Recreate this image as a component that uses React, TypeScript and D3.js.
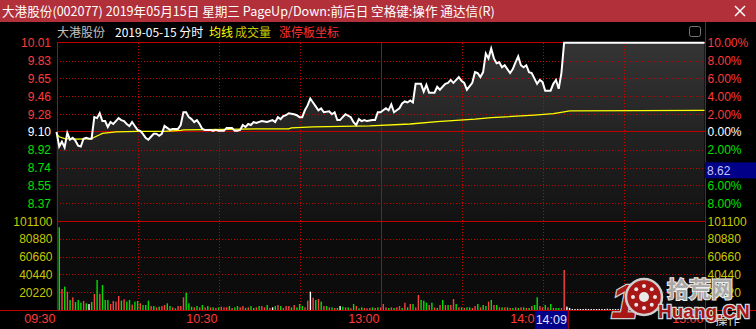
import React from 'react';
import * as d3 from 'd3';

const W = 756;
const H = 329;

// price samples: minute index (0 = 09:30, 120 = 13:00, 240 = 15:00) and price
const priceMinutes = [0,1,2,3,4,5,6,7,8,9,10,11,12,13,14,15,16,17,18,19,20,21,22,23,24,25,26,27,28,29,30,31,32,33,34,35,36,37,38,39,40,41,42,43,44,45,46,47,48,49,50,51,52,53,54,55,56,57,58,59,60,61,62,63,64,65,66,67,68,69,70,71,72,73,74,76,78,80,81,82,83,84,85,86,88,89,90,91,92,93,94,95,96,97,98,99,101,102,103,104,105,106,107,109,110,111,112,113,114,115,117,118,119,120,121,122,123,124,125,127,128,129,130,131,132,133,135,136,137,138,140,141,142,144,145,146,147,149,150,151,152,154,155,156,157,158,159,160,161,162,163,164,165,166,168,169,170,171,172,173,174,175,176,178,179,180,181,183,184,185,186,187,188,240];
const priceValues = [9.10,8.95,9.00,8.94,9.09,9.02,9.04,9.01,8.96,8.95,9.03,9.04,9.03,9.03,9.25,9.24,9.29,9.21,9.21,9.15,9.20,9.18,9.21,9.24,9.22,9.21,9.18,9.16,9.20,9.16,9.12,9.11,9.08,9.04,9.02,9.05,9.08,9.08,9.06,9.08,9.16,9.14,9.12,9.13,9.13,9.13,9.17,9.30,9.30,9.25,9.23,9.20,9.22,9.18,9.13,9.12,9.12,9.12,9.11,9.12,9.11,9.11,9.11,9.14,9.14,9.14,9.11,9.11,9.12,9.17,9.15,9.18,9.17,9.20,9.19,9.21,9.20,9.22,9.20,9.25,9.23,9.26,9.27,9.29,9.28,9.27,9.25,9.25,9.32,9.37,9.44,9.40,9.36,9.32,9.34,9.30,9.31,9.28,9.30,9.22,9.22,9.25,9.28,9.25,9.20,9.17,9.23,9.21,9.22,9.21,9.22,9.22,9.30,9.30,9.32,9.34,9.32,9.38,9.30,9.34,9.39,9.41,9.40,9.42,9.40,9.59,9.59,9.51,9.58,9.50,9.50,9.56,9.53,9.59,9.60,9.63,9.60,9.66,9.62,9.60,9.53,9.60,9.71,9.70,9.66,9.71,9.90,9.85,9.95,9.85,9.80,9.81,9.76,9.78,9.70,9.74,9.81,9.87,9.78,9.76,9.78,9.71,9.70,9.59,9.63,9.61,9.52,9.52,9.59,9.63,9.54,9.70,10.01,10.01];

const avgMinutes = [0,1,3,8,13,14,16,17,22,30,40,46,47,62,74,86,87,95,116,131,141,155,161,177,184,188,190,240];
const avgValues = [9.08,9.05,9.03,9.025,9.03,9.045,9.07,9.085,9.10,9.105,9.105,9.115,9.12,9.125,9.13,9.13,9.14,9.15,9.16,9.18,9.205,9.23,9.245,9.27,9.285,9.305,9.315,9.32];

// volume per minute, minutes 1..240
const volumeValues = [
  93900,23900,26500,20800,11400,14400,9100,11400,8300,10200,
  7600,6800,9100,18200,34100,18200,28400,11400,11400,6800,
  10200,9500,15900,10600,12100,9500,11400,6100,9500,10200,
  7600,5700,5700,10600,4500,4500,3000,3800,4500,5700,
  7600,4500,3000,1900,4500,4500,14400,19700,7600,3800,
  3000,4500,3000,5700,3000,4500,3000,3000,2300,3000,
  3800,3000,3000,4500,2300,3000,4500,3000,4500,2300,
  3000,4500,2300,3000,4500,4500,3000,5700,2300,3000,
  4500,5700,4500,2300,4500,4500,3000,5700,3000,6800,
  4500,3000,10600,20800,14000,11400,12500,9500,4500,4500,
  3000,3000,2300,2300,4500,3800,3000,3000,1900,6800,
  4500,1900,3000,2300,1900,2300,3000,2300,3000,3000,
  6800,3000,2300,3000,2300,3000,4500,2300,8300,3000,
  6800,6800,3000,17000,11400,10600,8300,5700,8300,3000,
  2300,5700,11400,5700,5700,5700,12500,6800,3000,3000,
  2300,3000,3000,2300,4500,6800,3000,5700,4500,9500,
  11400,5700,5700,3000,3000,3000,3000,2300,2300,3000,
  2300,3000,3000,2300,2300,4500,5700,14400,4500,3000,
  5700,3000,6800,2300,2300,2300,2300,45400,3800,2300,
  1100,900,1200,800,1000,1300,900,1000,1100,800,
  1200,900,1000,1400,900,1000,800,1100,1000,900,
  1200,1000,900,1100,800,1000,1300,900,1000,1100,
  900,1000,1200,800,1000,1100,900,1000,1300,900,
  1000,1100,800,1000,1200,900,1000,1100,900,1000,
];
// r = up, g = down, w = unchanged
const volumeDirs = (
  'grgrgrgggr' + 'gwgrgrgggr' + 'rrrgrggrgg' + 'rgggrgrgrr' + 'ggrgrrrggg' +
  'rgrgrgrgrg' + 'rrrgrggrrg' + 'rggrgrrgrw' + 'grgrrrgrgg' + 'grrwrgrgrg' +
  'rgrgwgrgrg' + 'rggrrrgrgr' + 'rrgrgrrgrg' + 'rgrrgggrgr' + 'grgrgrrgrg' +
  'rggrrgrggr' + 'grgrgrgrgr' + 'grgrgrggrr' + 'grgrggrrww' +
  'wwwwwwwwww' + 'wwwwwwwwww' + 'wwwwwwwwww' + 'wwwwwwwwww' + 'wwwwwwwwww'
).split('');

const priceTickLabels = ['10.01','9.83','9.65','9.46','9.28','9.10','8.92','8.74','8.55','8.37'];
const pctTickValues = [10,8,6,4,2,0,-2,-4,-6,-8];
const pctTickLabels = ['10.00%','8.00%','6.00%','4.00%','2.00%','0.00%','2.00%','4.00%','6.00%','8.00%'];
const volTickValues = [101100,80880,60660,40440,20220];
const timeLabels = ['09:30','10:30','13:00','14:00','15:00'];
const timeMinutes = [0,60,120,180,240];
const dottedMinutes = [30,60,90,150,180,210];
const solidMinutes = [0,120,240];
const crossMinute = 189;
const crossTime = '14:09';
const crossPrice = '8.62';
const crossPriceValue = 8.62;

const titleText = '大港股份(002077) 2019年05月15日 星期三 PageUp/Down:前后日 空格键:操作 通达信(R)';

const L = 56.5, R = 704.5, PT = 42.7, PB = 221, VT = 221, VB = 310;

const RED = '#ff3a3a';
const GREEN = '#00e000';
const GRID = '#c00000';
const DOT = '#c80000';
const VOLY = '#c8c800';

export default function App() {
  const x = d3.scaleLinear().domain([0, 240]).range([L, R]);
  const py = d3.scaleLinear().domain([8.19, 10.01]).range([PB, PT]);
  const pct = d3.scaleLinear().domain([-10, 10]).range([PB, PT]);
  const vy = d3.scaleLinear().domain([0, 101100]).range([VB, VT]);

  const pts = priceMinutes.map((m, i) => [m, priceValues[i]] as [number, number]);
  const line = d3.line<[number, number]>().x(d => x(d[0])).y(d => py(d[1]));
  const area = d3.area<[number, number]>().x(d => x(d[0])).y0(PB).y1(d => py(d[1]));
  const avgPts = avgMinutes.map((m, i) => [m, avgValues[i]] as [number, number]);

  const dirColor = (c: string) => (c === 'r' ? '#ff4040' : c === 'g' ? '#00e000' : '#ffffff');

  const crossX = x(crossMinute);
  const crossY = py(crossPriceValue);
  const boxTop = crossY - 16.5;
  const boxBottom = crossY - 0.5;
  const hiddenByBox = (yy: number) => yy > boxTop - 2 && yy < boxBottom + 2;

  const num = "'Liberation Sans', Arial, sans-serif";
  const cjk = "'Noto Sans CJK SC', 'Liberation Sans', sans-serif";

  return (
    <svg width={W} height={H} style={{ position: 'absolute', left: 0, top: 0, background: '#000' }}>
      <defs>
        <linearGradient id="fillg" gradientUnits="userSpaceOnUse" x1="0" y1={PT} x2="0" y2={PB}>
          <stop offset="0" stopColor="#353535" />
          <stop offset="1" stopColor="#121212" />
        </linearGradient>
      </defs>
      <rect x={0} y={0} width={W} height={H} fill="#000" />
      {/* title bar */}
      <rect x={0} y={0} width={W} height={22} fill="#b2303a" />
      <text x={2} y={16} fill="#fff" fontSize={12.6} fontFamily={cjk}>{titleText}</text>
      <g stroke="#fff" strokeWidth={1.5}>
        <line x1={735} y1={6} x2={745} y2={16} />
        <line x1={745} y1={6} x2={735} y2={16} />
      </g>

      {/* header row */}
      <g fontFamily={cjk} fontSize={12}>
        <text x={57} y={37} fill="#c0c0c0">大港股份</text>
        <text x={115} y={37} fill="#ffffff">2019-05-15 分时</text>
        <text x={209} y={37} fill="#ffff00">均线</text>
        <text x={235} y={37} fill={VOLY}>成交量</text>
        <text x={279} y={37} fill="#ff3030">涨停板坐标</text>
      </g>
      <rect x={689.5} y={26.5} width={11} height={10} rx={2} fill="none" stroke="#777" />

      {/* volume background */}
      <rect x={L} y={VT} width={R - L} height={VB - VT} fill="#0c0c0c" />

      {/* price area fill */}
      <path d={area(pts) || ''} fill="url(#fillg)" />

      {/* dotted grid */}
      <g stroke={DOT} strokeWidth={1} strokeDasharray="1,2" shapeRendering="crispEdges">
        {pctTickValues.filter(v => v !== 10 && v !== 0).map(v => (
          <line key={'pg' + v} x1={L} x2={R} y1={Math.round(pct(v)) + 0.5} y2={Math.round(pct(v)) + 0.5} />
        ))}
        {volTickValues.filter(v => v !== 101100).map(v => (
          <line key={'vg' + v} x1={L} x2={R} y1={Math.round(vy(v)) + 0.5} y2={Math.round(vy(v)) + 0.5} />
        ))}
        {dottedMinutes.map(m => (
          <line key={'dm' + m} x1={Math.round(x(m)) + 0.5} x2={Math.round(x(m)) + 0.5} y1={PT} y2={VB} />
        ))}
      </g>

      {/* volume bars */}
      {volumeValues.map((v, i) => {
        const m = i + 1;
        const y0 = vy(v);
        const h = Math.max(1, VB - y0);
        return <rect key={'vb' + m} x={x(m) - 0.6} y={VB - h} width={1.4} height={h} fill={dirColor(volumeDirs[i])} />;
      })}

      {/* solid grid */}
      <g stroke={GRID} strokeWidth={1.2} shapeRendering="crispEdges">
        <line x1={L} x2={R} y1={42.5} y2={42.5} />
        <line x1={L} x2={R} y1={131.5} y2={131.5} />
        <line x1={L} x2={R} y1={221.5} y2={221.5} />
        <line x1={0} x2={W} y1={310.5} y2={310.5} />
        {solidMinutes.map(m => (
          <line key={'sm' + m} x1={Math.round(x(m)) + 0.5} x2={Math.round(x(m)) + 0.5} y1={m === 240 ? 22 : PT} y2={m === 240 ? H : VB} />
        ))}
      </g>

      {/* average line */}
      <path d={line(avgPts) || ''} fill="none" stroke="#ffff00" strokeWidth={1.3} />
      {/* price line */}
      <path d={line(pts) || ''} fill="none" stroke="#ffffff" strokeWidth={2} strokeLinejoin="miter" />

      {/* left axis labels */}
      <g fontFamily={num} fontSize={12} textAnchor="end">
        {pctTickValues.map((v, i) => (
          <text key={'pl' + i} x={51} y={pct(v) + 4.5} fill={v > 0 ? RED : v < 0 ? GREEN : '#ffffff'}>{priceTickLabels[i]}</text>
        ))}
        {volTickValues.map(v => (
          <text key={'vl' + v} x={52.5} y={vy(v) + 4.5} fill={VOLY}>{v}</text>
        ))}
      </g>
      {/* right axis labels */}
      <g fontFamily={num} fontSize={12} textAnchor="start">
        {pctTickValues.map((v, i) => hiddenByBox(pct(v)) ? null : (
          <text key={'pr' + i} x={707.5} y={pct(v) + 4.5} fill={v > 0 ? RED : v < 0 ? GREEN : '#ffffff'}>{pctTickLabels[i]}</text>
        ))}
        {volTickValues.map(v => (
          <text key={'vr' + v} x={707.5} y={vy(v) + 4.5} fill={VOLY}>{v}</text>
        ))}
      </g>
      {/* right price crosshair box */}
      <rect x={R + 0.5} y={boxTop} width={W - R} height={16} fill="#000088" />
      <text x={707} y={crossY - 4} fill="#c8c8ff" fontFamily={num} fontSize={12}>{crossPrice}</text>

      {/* time labels */}
      <g fontFamily={num} fontSize={12.5} textAnchor="end" fill={RED}>
        {timeMinutes.map((m, i) => (
          <text key={'tl' + m} x={x(m) - 1} y={323}>{timeLabels[i]}</text>
        ))}
      </g>
      <rect x={crossX - 32} y={311} width={33.5} height={18} fill="#000088" />
      <line x1={crossX + 1.5} x2={crossX + 1.5} y1={311} y2={H} stroke={GRID} />
      <text x={crossX - 15.5} y={323.5} textAnchor="middle" fill="#e0e0ff" fontFamily={num} fontSize={12.5}>{crossTime}</text>
      <text x={715} y={325} fill="#d8d8d8" fontFamily={cjk} fontSize={12.5}>操作</text>

      {/* watermark */}
      <g>
        <text x={611} y={318} fontFamily={num} fontWeight="bold" fontStyle="italic" fontSize={48} fill="#a81616" stroke="#cfcfcf" strokeWidth={2.5} paintOrder="stroke">1</text>
        <circle cx={644} cy={297} r={18} fill="#a81616" stroke="#cfcfcf" strokeWidth={2.5} />
        <circle cx={644} cy={297} r={5} fill="#e8e8e8" />
        {d3.range(8).map(k => {
          const a = (k * Math.PI) / 4;
          return <circle key={'gd' + k} cx={644 + Math.cos(a) * 11} cy={297 + Math.sin(a) * 11} r={2} fill="#e8e8e8" />;
        })}
        <text x={667} y={297} fontFamily={cjk} fontWeight="bold" fontSize={22} fill="#a8a8a8" stroke="#eeeeee" strokeWidth={2} paintOrder="stroke">拾荒网</text>
        <text x={658} y={318} fontFamily={num} fontWeight="bold" fontSize={19} fill="#a81616" stroke="#d8d8d8" strokeWidth={2.5} paintOrder="stroke">Huang.CN</text>
      </g>
    </svg>
  );
}
